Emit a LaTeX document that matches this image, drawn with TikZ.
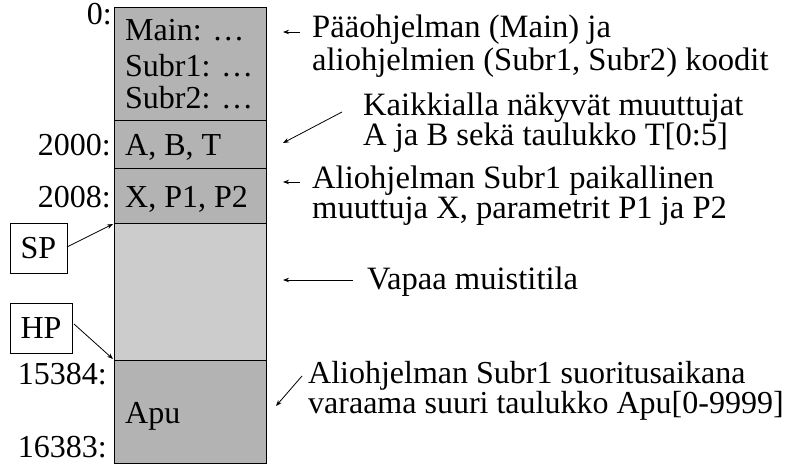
\documentclass[tikz,border=0pt]{standalone}
\usepackage{fontspec}
\setmainfont{Liberation Serif}
\usetikzlibrary{arrows.meta}
\definecolor{darkcell}{RGB}{179,179,179}
\definecolor{lightcell}{RGB}{204,204,204}
\begin{document}
\begin{tikzpicture}[x=1pt,y=-1pt,
  txt/.style={inner sep=0pt,font=\fontsize{32}{33}\selectfont},
  lft/.style={txt,anchor=base west},
  rgt/.style={txt,anchor=base east},
  expl/.style={lft,font=\fontsize{32.6}{33}\selectfont},
  cell/.style={draw=black,line width=1pt},
  ptrbox/.style={draw=black,line width=0.8pt,inner sep=0pt,minimum width=57pt,minimum height=50pt,font=\fontsize{32}{33}\selectfont},
  arr/.style={-{Stealth[length=6pt,width=4.5pt]},line width=0.8pt}]
\useasboundingbox (0,0) rectangle (785,464);
% memory column
\draw[cell,fill=darkcell] (114,7) rectangle (266,120);
\draw[cell,fill=darkcell] (114,120) rectangle (266,168);
\draw[cell,fill=darkcell] (114,168) rectangle (266,223);
\draw[cell,fill=lightcell] (114,223) rectangle (266,360);
\draw[cell,fill=darkcell] (114,360) rectangle (266,463);
\coordinate (sptop) at (113,224);
\coordinate (hptop) at (113,359);
% contents
\node[lft] (c1) at (125,40) {Main: …};
\node[lft] (c2) at (125,76) {Subr1: …};
\node[lft] (c3) at (125,108) {Subr2: …};
\node[lft] (c4) at (125,155) {A, B, T};
\node[lft] (c5) at (125,207) {X, P1, P2};
\node[lft] (c6) at (125,423) {Apu};
% addresses
\node[rgt] (a0) at (112,24) {0:};
\node[rgt] (a1) at (111,155) {2000:};
\node[rgt] (a2) at (111,207) {2008:};
\node[rgt] (a3) at (107,384) {15384:};
\node[rgt] (a4) at (107,457) {16383:};
% pointer boxes
\node[ptrbox] (sp) at (38.5,248) {SP};
\node[ptrbox,minimum width=62pt] (hp) at (41,328) {HP};
\coordinate (spout) at (67,247);
\coordinate (hpout) at (74,324);
\draw[arr] (spout) -- (sptop);
\draw[arr] (hpout) -- (hptop);
% explanations
\node[expl] (e1a) at (312,37) {Pääohjelman (Main) ja};
\node[expl] (e1b) at (312,70) {aliohjelmien (Subr1, Subr2) koodit};
\node[expl] (e2a) at (363,115) {Kaikkialla näkyvät muuttujat};
\node[expl] (e2b) at (363,145) {A ja B sekä taulukko T[0:5]};
\node[expl] (e3a) at (312,188) {Aliohjelman Subr1 paikallinen};
\node[expl] (e3b) at (312,218) {muuttuja X, parametrit P1 ja P2};
\node[expl] (e4) at (367,289) {Vapaa muistitila};
\node[lft] (e5a) at (308,383) {Aliohjelman Subr1 suoritusaikana};
\node[lft] (e5b) at (308,413) {varaama suuri taulukko Apu[0-9999]};
\coordinate (s1) at (300,32);
\coordinate (s2) at (342,112);
\coordinate (s3) at (300,182);
\coordinate (s4) at (353,280);
\coordinate (s5) at (302,376);
\coordinate (t1) at (283,32);
\coordinate (t2) at (283,143);
\coordinate (t3) at (283,182);
\coordinate (t4) at (283,280);
\coordinate (t5) at (276,406);
\draw[arr] (s1) -- (t1);
\draw[arr] (s2) -- (t2);
\draw[arr] (s3) -- (t3);
\draw[arr] (s4) -- (t4);
\draw[arr] (s5) -- (t5);
\end{tikzpicture}
\end{document}
